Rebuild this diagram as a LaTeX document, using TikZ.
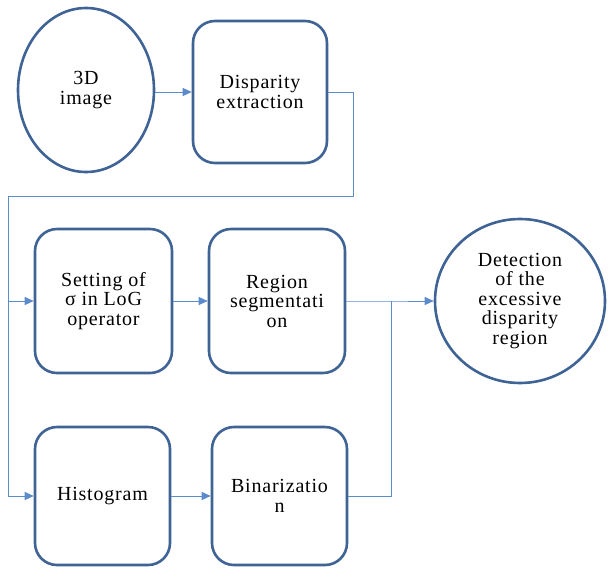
\documentclass[tikz,border=0pt]{standalone}
\usepackage{fontspec}
\setmainfont{Liberation Serif}[LetterSpace=4]
\usetikzlibrary{shapes.geometric,arrows.meta}
\definecolor{edgeblue}{HTML}{3E6394}
\definecolor{linkblue}{HTML}{5B8BCB}
\tikzset{
  stepbox/.style={draw=edgeblue, line width=2.6pt, rounded corners=22pt, fill=white,
    align=center, inner sep=0pt, font=\fontsize{20}{19.5}\selectfont},
  oval/.style={draw=edgeblue, line width=2.6pt, ellipse, fill=white,
    align=center, inner sep=0pt, font=\fontsize{20}{19.5}\selectfont},
  link/.style={draw=linkblue, line width=1pt},
  arr/.style={link, -{Triangle[length=9pt,width=8pt]}}
}
\begin{document}
\begin{tikzpicture}[x=1pt,y=-1pt]
\useasboundingbox (0,0) rectangle (609,568);
\node[oval, minimum width=136pt, minimum height=164pt] (img) at (86,90) {3D\\image};
\node[stepbox, minimum width=134pt, minimum height=142pt] (disp) at (260,92) {Disparity\\extraction};
\node[stepbox, minimum width=137pt, minimum height=144pt] (set) at (103.5,301) {Setting of\\σ in LoG\\operator};
\node[stepbox, minimum width=136pt, minimum height=144pt] (reg) at (277,301) {Region\\segmentati\\on};
\node[stepbox, minimum width=135pt, minimum height=138pt] (hist) at (102.5,496) {Histogram};
\node[stepbox, minimum width=135pt, minimum height=138pt] (bin) at (279.5,496) {Binarizatio\\n};
\node[oval, minimum width=170pt, minimum height=164pt] (det) at (520,301) {Detection\\of the\\excessive\\disparity\\region};
\coordinate (c1) at (353,92);
\coordinate (c2) at (353,196);
\coordinate (c3) at (8,196);
\coordinate (c4) at (8,301);
\coordinate (c5) at (8,496);
\coordinate (m1) at (391,301);
\coordinate (m2) at (391,496);
\draw[arr] (img.east |- disp.west) -- (disp.west);
\draw[link] (disp.east) -- (c1) -- (c2) -- (c3) -- (c5);
\draw[arr] (c4) -- (set.west);
\draw[arr] (c5) -- (hist.west);
\draw[arr] (set.east) -- (reg.west);
\draw[arr] (hist.east) -- (bin.west);
\draw[arr] (reg.east) -- (m1) -- (det.west);
\draw[link] (bin.east) -- (m2) -- (m1);
\end{tikzpicture}
\end{document}
